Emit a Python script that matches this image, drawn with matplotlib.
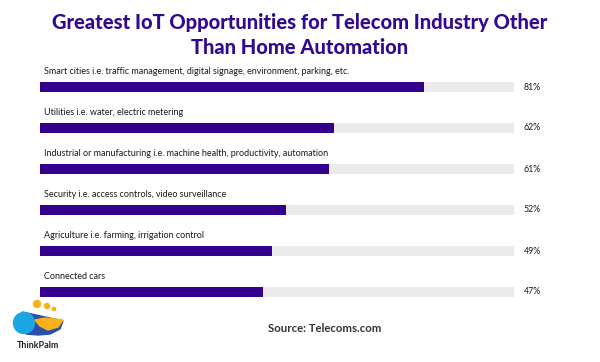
import matplotlib.pyplot as plt
from matplotlib.patches import Circle, Polygon

# Data
categories = [
    "Smart cities i.e. traffic management, digital signage, environment, parking, etc.",
    "Utilities i.e. water, electric metering",
    "Industrial or manufacturing i.e. machine health, productivity, automation",
    "Security i.e. access controls, video surveillance",
    "Agriculture i.e. farming, irrigation control",
    "Connected cars",
]
values = [81, 62, 61, 52, 49, 47]

purple = "#35008c"
track = "#ebebeb"

fig = plt.figure(figsize=(6, 3.62), dpi=100)

# Title
fig.text(0.5, 1 - 23 / 362, "Greatest IoT Opportunities for Telecom Industry Other",
         ha="center", va="center", fontsize=14.5, fontweight="black",
         color="#33098f", family="Lato")
fig.text(0.5, 1 - 47 / 362, "Than Home Automation",
         ha="center", va="center", fontsize=14.5, fontweight="black",
         color="#33098f", family="Lato")

# Bars axes
ax = fig.add_axes([40 / 600, 49.5 / 362, 474 / 600, 246 / 362])
pos = list(range(len(values)))
ax.barh(pos, [100] * len(values), height=0.26, color=track)
ax.barh(pos, values, height=0.26, color=purple)
for i, (cat, v) in enumerate(zip(categories, values)):
    ax.text(0.8, i - 0.37, cat, ha="left", va="center", fontsize=6.5,
            family="Lato", color="#1a1a1a")
    ax.text(102, i, f"{v}%", ha="left", va="center", fontsize=6.3,
            family="Lato", color="#1a1a1a")
ax.set_xlim(0, 100)
ax.set_ylim(5.5, -0.5)
ax.axis("off")

# Source
fig.text(325 / 600, 1 - 329 / 362, "Source: Telecoms.com", ha="center",
         va="center", fontsize=8.2, fontweight="bold", family="Lato",
         color="#333333")

# Logo
lax = fig.add_axes([0, 0, 80 / 600, 72 / 362])
lax.set_xlim(0, 80)
lax.set_ylim(72, 0)
lax.axis("off")
lax.add_patch(Polygon([[22, 22], [36, 25], [50, 28], [63, 31], [60, 39],
                       [50, 44], [38, 45], [26, 44], [28, 30]],
                      color="#2a4fa8"))
lax.add_patch(Circle((24, 33), 10.5, color="#1ca6e4"))
lax.add_patch(Polygon([[35, 30], [45, 28], [55, 29], [63, 30], [58, 37],
                       [48, 40], [40, 36]], color="#f7b21b"))
lax.add_patch(Circle((37, 14), 3.5, color="#f7b21b"))
lax.add_patch(Circle((47, 16), 2.5, color="#f7b21b"))
lax.add_patch(Circle((54, 19), 1.6, color="#f7b21b"))
lax.text(38, 56, "ThinkPalm", ha="center", va="center", fontsize=6.5,
         fontweight="bold", family="Lato", color="#222222")

fig.savefig("out.png", dpi=100)
